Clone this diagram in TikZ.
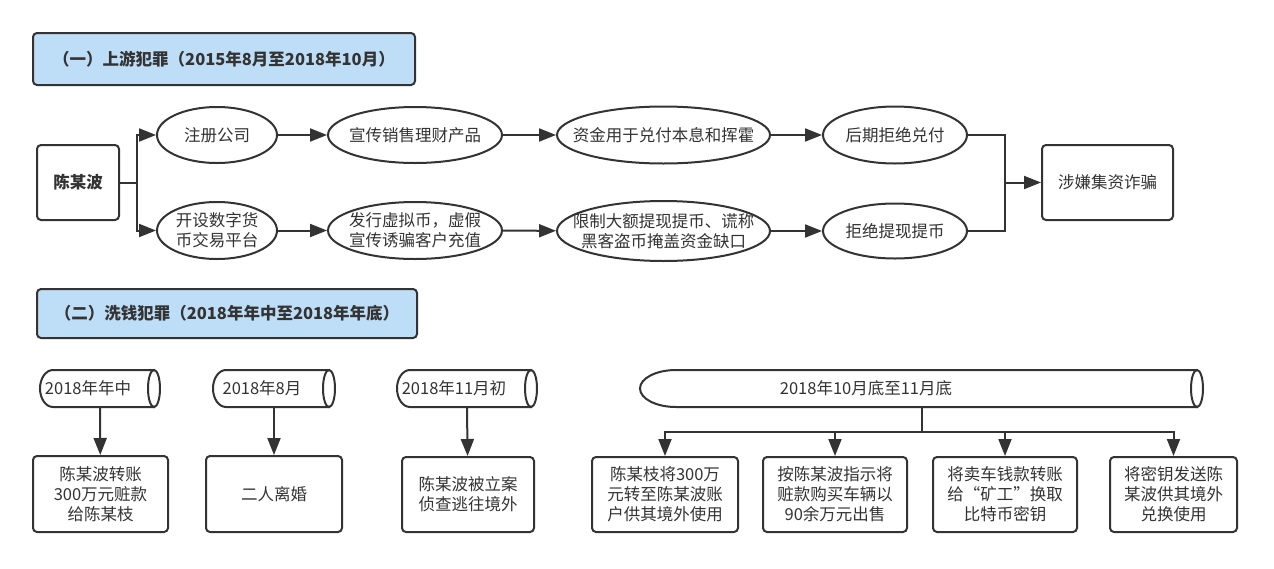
\documentclass[tikz,border=0pt]{standalone}
\usepackage{fontspec}
\setmainfont{Noto Sans CJK SC}
\usepackage{tikz}
\usetikzlibrary{arrows.meta}
\usetikzlibrary{shapes.geometric}
\definecolor{line}{RGB}{51,51,51}
\definecolor{head}{RGB}{190,222,248}

\begin{document}
\begin{tikzpicture}[x=1pt, y=-1pt]
\tikzstyle{txt} = [font=\fontsize{16.5pt}{20pt}\selectfont, text=line]
\tikzstyle{box} = [txt, rectangle, rounded corners=4pt, draw=line, line width=2pt, align=center]
\tikzstyle{title} = [box, fill=head, font=\fontsize{16.5pt}{20pt}\selectfont\bfseries]
\tikzstyle{oval} = [txt, ellipse, draw=line, line width=2pt, inner sep=0pt, align=center]
\tikzstyle{wire} = [draw=line, line width=2pt]
\tikzstyle{arrow} = [wire, -{Triangle[length=17pt, width=13pt]}]
\tikzstyle{pipe} = [draw=line, line width=2pt, fill=white]

\useasboundingbox[fill=white] (0,0) rectangle (1274,568);

\node[title, minimum width=382pt, minimum height=52pt] (h1) at (224,59) {（一）上游犯罪（2015年8月至2018年10月）};
\node[title, minimum width=380pt, minimum height=49pt] (h2) at (227,313.5) {（二）洗钱犯罪（2018年年中至2018年年底）};

\node[box, minimum width=82pt, minimum height=75pt, font=\fontsize{16.5pt}{20pt}\selectfont\bfseries] (cb) at (78,182.5) {陈某波};
\node[box, minimum width=131pt, minimum height=75pt] (r) at (1107.5,182.5) {涉嫌集资诈骗};

\node[oval, minimum width=120pt, minimum height=56pt] (e1) at (217,135) {\makebox[0pt]{注册公司}};
\node[oval, minimum width=174pt, minimum height=56pt] (e2) at (415,135) {\makebox[0pt]{宣传销售理财产品}};
\node[oval, minimum width=213pt, minimum height=57pt] (e3) at (663.5,135) {\makebox[0pt]{资金用于兑付本息和挥霍}};
\node[oval, minimum width=144pt, minimum height=57pt] (e4) at (895,135) {\makebox[0pt]{后期拒绝兑付}};
\node[oval, minimum width=120pt, minimum height=57pt] (e5) at (217,230.5) {\makebox[0pt]{开设数字货}\\\makebox[0pt]{币交易平台}};
\node[oval, minimum width=174pt, minimum height=57pt] (e6) at (415,230.5) {\makebox[0pt]{发行虚拟币，虚假}\\\makebox[0pt]{宣传诱骗客户充值}};
\node[oval, minimum width=213pt, minimum height=60pt] (e7) at (663.5,231) {\makebox[0pt]{限制大额提现提币、谎称}\\\makebox[0pt]{黑客盗币掩盖资金缺口}};
\node[oval, minimum width=144pt, minimum height=55pt] (e8) at (895,231) {\makebox[0pt]{拒绝提现提币}};

\coordinate (fork) at (137,182.5);
\coordinate (join) at (1005,182.5);
\draw[wire] (cb) -- (fork);
\draw[arrow] (fork) |- (e1);
\draw[arrow] (fork) |- (e5);
\draw[arrow] (e1) -- (e2);
\draw[arrow] (e2) -- (e3);
\draw[arrow] (e3) -- (e4);
\draw[arrow] (e5) -- (e6);
\draw[arrow] (e6) -- (e7);
\draw[arrow] (e7) -- (e8);
\draw[wire] (e4) -| (join);
\draw[wire] (e8) -| (join);
\draw[arrow] (join) -- (r);

\foreach \xa/\xb/\rl in {40/160/13, 213/335/13, 397/537/13, 640/1203/36} {
  \draw[pipe] (\xb-6,370) -- (\xa+\rl,370) arc[start angle=270, end angle=90, x radius=\rl, y radius=18.5] -- (\xb-6,407) -- cycle;
  \draw[pipe] (\xb-6,388.5) ellipse [x radius=6, y radius=18.5];
}
\node[txt] (y1) at (88,388.5) {2018年年中};
\node[txt] (y2) at (262,388.5) {2018年8月};
\node[txt] (y3) at (454,388.5) {2018年11月初};
\node[txt] (y4) at (866,388.5) {2018年10月底至11月底};
\coordinate (p1) at (100,407);
\coordinate (p2) at (274,407);
\coordinate (p3) at (467,407);
\coordinate (p4) at (922,407);
\coordinate (fan) at (922,432);

\node[box, minimum width=135pt, minimum height=76pt] (b1) at (100.5,494) {陈某波转账\\300万元赃款\\给陈某枝};
\node[box, minimum width=136pt, minimum height=76pt] (b2) at (274,494) {二人离婚};
\node[box, minimum width=132pt, minimum height=75pt] (b3) at (468,494.5) {陈某波被立案\\侦查逃往境外};
\node[box, minimum width=146pt, minimum height=75pt] (b4) at (665,494.5) {陈某枝将300万\\元转至陈某波账\\户供其境外使用};
\node[box, minimum width=144pt, minimum height=75pt] (b5) at (835,494.5) {按陈某波指示将\\赃款购买车辆以\\90余万元出售};
\node[box, minimum width=144pt, minimum height=75pt] (b6) at (1005,494.5) {将卖车钱款转账\\给“矿工”换取\\比特币密钥};
\node[box, minimum width=127pt, minimum height=75pt] (b7) at (1173.5,494.5) {将密钥发送陈\\某波供其境外\\兑换使用};

\draw[arrow] (p1) -- (b1);
\draw[arrow] (p2) -- (b2);
\draw[arrow] (p3) -- (b3);
\draw[wire] (p4) -- (fan);
\foreach \n in {b4,b5,b6,b7}
  \draw[arrow] (fan) -| (\n);
\end{tikzpicture}
\end{document}
